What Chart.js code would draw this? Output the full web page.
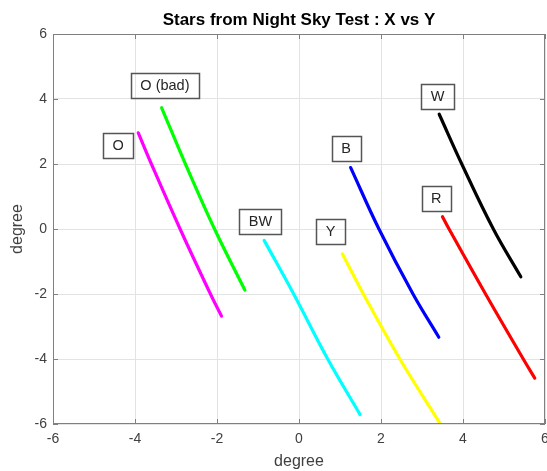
<!DOCTYPE html>
<html><head><meta charset="utf-8">
<script src="https://cdn.jsdelivr.net/npm/chart.js@4.4.1/dist/chart.umd.min.js"></script>
<style>html,body{margin:0;padding:0;background:#fff}#wrap{width:547px;height:471px}</style>
</head><body><div id="wrap"><canvas id="c" width="547" height="471"></canvas></div>
<script>
const chartTitle = 'Stars from Night Sky Test : X vs Y';
const xAxisTitle = 'degree';
const yAxisTitle = 'degree';
const axisTicks = [-6, -4, -2, 0, 2, 4, 6];

// series (x, y in degrees)
const seriesNames = ['O', 'O (bad)', 'BW', 'Y', 'B', 'W', 'R'];
const oX    = [-3.92, -3.60, -2.90, -2.16, -1.89];
const oY    = [ 2.96,  2.00,  0.00, -2.00, -2.68];
const oBadX = [-3.35, -2.77, -2.06, -1.32];
const oBadY = [ 3.73,  2.00,  0.00, -1.88];
const bwX   = [-0.85, -0.13,  0.70,  1.49];
const bwY   = [-0.35, -2.00, -4.00, -5.71];
const yX    = [ 1.06,  1.57,  2.46,  3.44];
const yY    = [-0.77, -2.00, -4.00, -5.98];
const bX    = [ 1.26,  1.95,  2.78,  3.41];
const bY    = [ 1.89,  0.00, -2.00, -3.33];
const wX    = [ 3.42,  3.97,  4.74,  5.41];
const wY    = [ 3.53,  2.00,  0.00, -1.47];
const rX    = [ 3.50,  3.66,  4.55,  5.47,  5.75];
const rY    = [ 0.38,  0.00, -2.00, -4.00, -4.59];

// text annotations (centre, in degrees)
const labelText = ['O (bad)', 'O', 'BW', 'B', 'Y', 'R', 'W'];
const labelX    = [-3.27, -4.41, -0.94, 1.15, 0.77, 3.35, 3.38];
const labelY    = [ 4.41,  2.58,  0.22, 2.47, -0.07, 0.93, 4.07];

const seriesX = [oX, oBadX, bwX, yX, bX, wX, rX];
const seriesY = [oY, oBadY, bwY, yY, bY, wY, rY];
const seriesColors = ['#ff00ff', '#00ff00', '#00ffff', '#ffff00', '#0000ff', '#000000', '#ff0000'];

const FONT = '"Liberation Sans", Arial, Helvetica, sans-serif';
const AXIS_COLOR = '#808080';

const datasets = seriesNames.map((n, i) => ({
  label: n,
  data: seriesX[i].map((v, j) => ({x: v, y: seriesY[i][j]})),
  showLine: true,
  borderColor: seriesColors[i],
  backgroundColor: seriesColors[i],
  borderWidth: 3.2,
  pointRadius: 0,
  tension: 0.4,
  borderCapStyle: 'round',
  fill: false
}));

const framePlugin = {
  id: 'frame',
  afterDraw(chart) {
    const {ctx, chartArea: a, scales: {x, y}} = chart;
    ctx.save();
    ctx.strokeStyle = AXIS_COLOR;
    ctx.lineWidth = 1;
    ctx.strokeRect(a.left + 0.5, a.top + 0.5, a.right - a.left - 1, a.bottom - a.top - 1);
    ctx.beginPath();
    axisTicks.forEach(v => {
      const px = Math.round(x.getPixelForValue(v)) + 0.5;
      ctx.moveTo(px, a.bottom); ctx.lineTo(px, a.bottom - 5);
      ctx.moveTo(px, a.top); ctx.lineTo(px, a.top + 5);
      const py = Math.round(y.getPixelForValue(v)) + 0.5;
      ctx.moveTo(a.left, py); ctx.lineTo(a.left + 5, py);
      ctx.moveTo(a.right, py); ctx.lineTo(a.right - 5, py);
    });
    ctx.stroke();

    // annotations
    ctx.font = '14.5px ' + FONT;
    ctx.textAlign = 'center';
    ctx.textBaseline = 'middle';
    labelText.forEach((t, i) => {
      const cx = x.getPixelForValue(labelX[i]);
      const cy = y.getPixelForValue(labelY[i]);
      const w = ctx.measureText(t).width + 19;
      const h = 25;
      ctx.strokeStyle = '#555555';
      ctx.lineWidth = 1.5;
      ctx.strokeRect(Math.round(cx - w / 2) + 0.5, Math.round(cy - h / 2) + 0.5, Math.round(w), h);
      ctx.fillStyle = '#262626';
      ctx.fillText(t, cx, cy + 0.5);
    });

    // title
    ctx.font = 'bold 17px ' + FONT;
    ctx.fillStyle = '#000000';
    ctx.fillText(chartTitle, (a.left + a.right) / 2, 20);
    ctx.restore();
  }
};

new Chart(document.getElementById('c'), {
  type: 'scatter',
  data: {datasets},
  options: {
    responsive: false,
    animation: false,
    layout: {padding: {top: 34, right: 2, bottom: 0, left: 0}},
    plugins: {legend: {display: false}, tooltip: {enabled: false}, title: {display: false}},
    scales: {
      x: {
        type: 'linear', min: -6, max: 6,
        afterBuildTicks: s => { s.ticks = axisTicks.map(v => ({value: v})); },
        ticks: {color: '#404040', font: {size: 14, family: FONT}, padding: 7, maxRotation: 0, autoSkip: false,
                callback: v => String(v)},
        grid: {color: '#e3e3e3', lineWidth: 1, drawTicks: false},
        border: {display: false},
        title: {display: true, text: xAxisTitle, color: '#404040', font: {size: 16, family: FONT}, padding: {top: 0, bottom: 0}},
        afterFit: s => { s.height = 47; s.paddingLeft = 0; s.paddingRight = 0; }
      },
      y: {
        type: 'linear', min: -6, max: 6,
        afterBuildTicks: s => { s.ticks = axisTicks.map(v => ({value: v})); },
        ticks: {color: '#404040', font: {size: 14, family: FONT}, padding: 6, autoSkip: false,
                callback: v => String(v)},
        grid: {color: '#e3e3e3', lineWidth: 1, drawTicks: false},
        border: {display: false},
        title: {display: true, text: yAxisTitle, color: '#404040', font: {size: 16, family: FONT}, padding: {top: 8, bottom: 0}},
        afterFit: s => { s.width = 53; s.paddingTop = 0; s.paddingBottom = 0; }
      }
    }
  },
  plugins: [framePlugin]
});
</script>
</body></html>
